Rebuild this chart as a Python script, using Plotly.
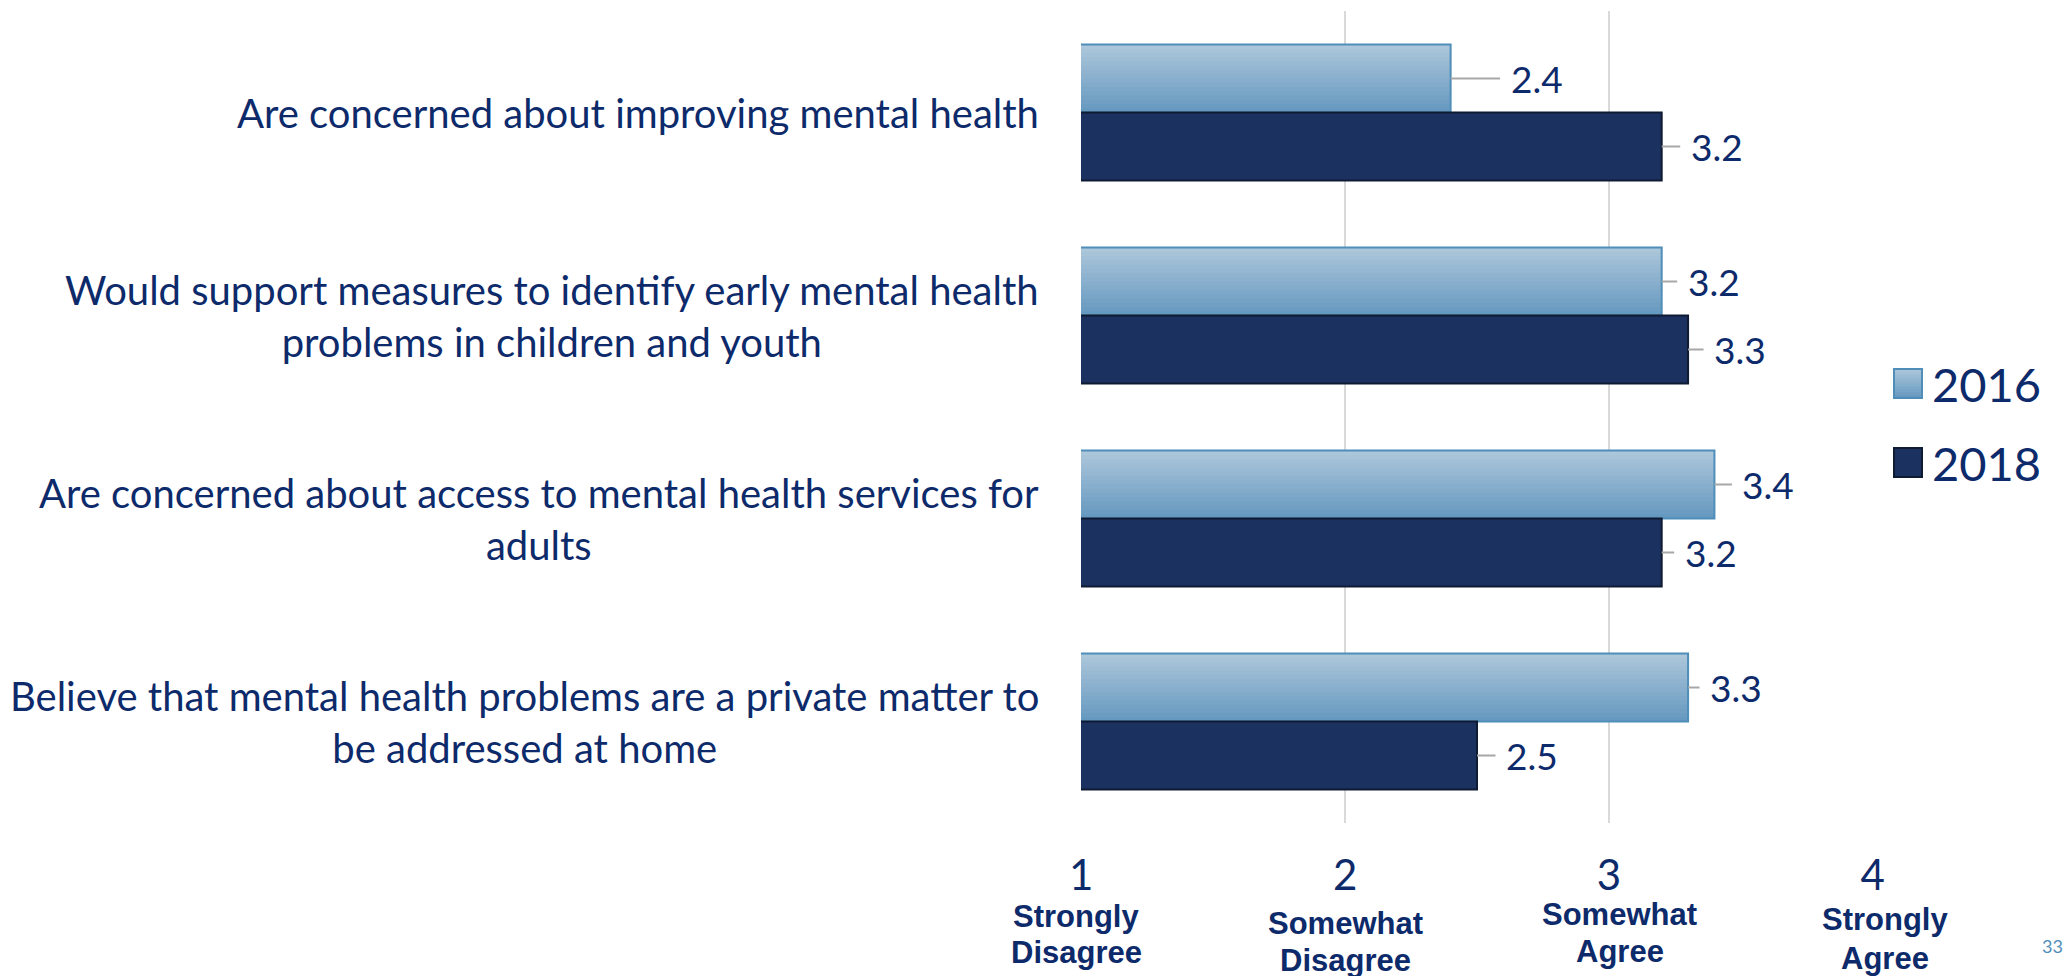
import plotly.graph_objects as go

# ---- data -------------------------------------------------------------
categories = [
    "Are concerned about improving mental health",
    "Would support measures to identify early mental health<br>problems in children and youth",
    "Are concerned about access to mental health services for<br>adults",
    "Believe that mental health problems are a private matter to<br>be addressed at home",
]
series_names = ["2016", "2018"]
values_2016 = [2.4, 3.2, 3.4, 3.3]
values_2018 = [3.2, 3.3, 3.2, 2.5]
x_ticks = [1, 2, 3, 4]
x_tick_labels = ["1", "2", "3", "4"]
scale_labels = [
    ["Strongly", "Disagree"],
    ["Somewhat", "Disagree"],
    ["Somewhat", "Agree"],
    ["Strongly", "Agree"],
]
page_number = "33"

# ---- geometry / style ---------------------------------------------------
W, H = 2067, 976
ML, MR, MT, MB = 1081, 194, 11, 153
PW, PH = W - ML - MR, H - MT - MB
BAR = 0.335                      # thickness of each bar in category units
NAVY_TEXT = "#0d2a6b"
FONT = "Lato"
C2016_TOP = (174, 199, 219)
C2016_BOT = (100, 152, 191)
C2016_EDGE = "#4f8eb9"
C2018_FILL = "#1b3160"
C2018_EDGE = "#0f1a33"
LEADER = "#a8a8a8"
label_offsets_2016 = [86, 52, 54, 48]
label_offsets_2018 = [55, 52, 49, 55]


def px(xp):
    return (xp - ML) / PW


def py(yp):
    return (H - MB - yp) / PH


def lerp(a, b, t):
    return "rgb(%d,%d,%d)" % tuple(round(a[i] + (b[i] - a[i]) * t) for i in range(3))


fig = go.Figure()

# 2016 bars: vertical gradient; each layer runs from its band down to the
# bar's lower edge, so later layers cover earlier ones without seams
N = 16
for i in range(N):
    t = (i + 0.5) / N
    start = -BAR + i * BAR / N
    fig.add_trace(go.Bar(
        y=categories, x=values_2016, orientation="h",
        offset=start, width=-start,
        marker=dict(color=lerp(C2016_TOP, C2016_BOT, t), line=dict(width=0)),
        showlegend=False, hoverinfo="skip",
    ))
# 2016 outline
fig.add_trace(go.Bar(
    y=categories, x=values_2016, orientation="h", name=series_names[0],
    offset=-BAR, width=BAR,
    marker=dict(color="rgba(0,0,0,0)", line=dict(color=C2016_EDGE, width=2)),
    showlegend=False,
))
# 2018 bars
fig.add_trace(go.Bar(
    y=categories, x=values_2018, orientation="h", name=series_names[1],
    offset=0, width=BAR,
    marker=dict(color=C2018_FILL, line=dict(color=C2018_EDGE, width=2)),
    showlegend=False,
))

annotations = []
shift = BAR / 2 * PH / len(categories)

# value labels with leader lines
for vals, offs, sgn in ((values_2016, label_offsets_2016, 1),
                        (values_2018, label_offsets_2018, -1)):
    for cat, v, off in zip(categories, vals, offs):
        annotations.append(dict(
            x=v, y=cat, xref="x", yref="y", yshift=sgn * shift,
            text=f"{v:.1f}", showarrow=True, arrowhead=0, arrowwidth=2,
            arrowcolor=LEADER, ax=off, ay=0, standoff=0, borderpad=10,
            font=dict(family=FONT, size=37, color=NAVY_TEXT),
        ))

# category labels
for cat in categories:
    annotations.append(dict(
        x=px(1041), y=cat, xref="paper", yref="y",
        text=cat, showarrow=False, xanchor="right", yanchor="middle",
        align="center", font=dict(family=FONT, size=40, color=NAVY_TEXT),
    ))

# scale descriptions under the tick numbers
desc_pos = [(-5, 916, 952), (0, 923, 960), (11, 914, 951), (12, 919, 958)]
for tick, lines, (dx, y1, y2) in zip(x_ticks, scale_labels, desc_pos):
    for line, yy in zip(lines, (y1, y2)):
        annotations.append(dict(
            x=tick, y=py(yy), xref="x", yref="paper", xshift=dx,
            text=line, showarrow=False, xanchor="center", yanchor="middle",
            font=dict(family="Liberation Sans", size=31, color=NAVY_TEXT,
                      weight="bold"),
        ))

# legend (drawn manually so the swatches can be large)
legend_rows = [(series_names[0], 369, 398), (series_names[1], 448, 477)]
shapes = []
for name, top, bot in legend_rows:
    if name == series_names[0]:
        n = 10
        for i in range(n):
            t = (i + 0.5) / n
            y0 = top + (bot - top) * i / n
            shapes.append(dict(type="rect", xref="paper", yref="paper",
                               x0=px(1894), x1=px(1922), y0=py(bot), y1=py(y0),
                               fillcolor=lerp(C2016_TOP, C2016_BOT, t),
                               line=dict(width=0)))
        shapes.append(dict(type="rect", xref="paper", yref="paper",
                           x0=px(1894), x1=px(1922), y0=py(bot), y1=py(top),
                           line=dict(color=C2016_EDGE, width=2)))
    else:
        shapes.append(dict(type="rect", xref="paper", yref="paper",
                           x0=px(1894), x1=px(1922), y0=py(bot), y1=py(top),
                           fillcolor=C2018_FILL,
                           line=dict(color=C2018_EDGE, width=2)))
    annotations.append(dict(
        x=px(1930), y=py((top + bot) / 2), xref="paper", yref="paper",
        text=name, showarrow=False, xanchor="left", yanchor="middle",
        font=dict(family=FONT, size=47, color=NAVY_TEXT),
    ))

# page number
annotations.append(dict(
    x=px(2040), y=py(946), xref="paper", yref="paper", text=page_number,
    showarrow=False, xanchor="left", yanchor="middle",
    font=dict(family=FONT, size=18, color="#4f8eb9"),
))

fig.update_layout(
    width=W, height=H,
    margin=dict(l=ML, r=MR, t=MT, b=MB, pad=0),
    paper_bgcolor="white", plot_bgcolor="white",
    barmode="overlay",
    xaxis=dict(
        range=[0.999, 4.001], tickvals=x_ticks, ticktext=x_tick_labels,
        showgrid=True, gridcolor="#d9d9d9", gridwidth=2,
        zeroline=False, showline=False, ticks="",
        tickfont=dict(family=FONT, size=42, color=NAVY_TEXT),
        ticklabelstandoff=24,
    ),
    yaxis=dict(
        type="category", categoryorder="array", categoryarray=categories,
        range=[3.5, -0.5], showticklabels=False, showgrid=False,
        zeroline=False, showline=False, ticks="",
    ),
    annotations=annotations,
    shapes=shapes,
)

fig.write_html("out.html")
